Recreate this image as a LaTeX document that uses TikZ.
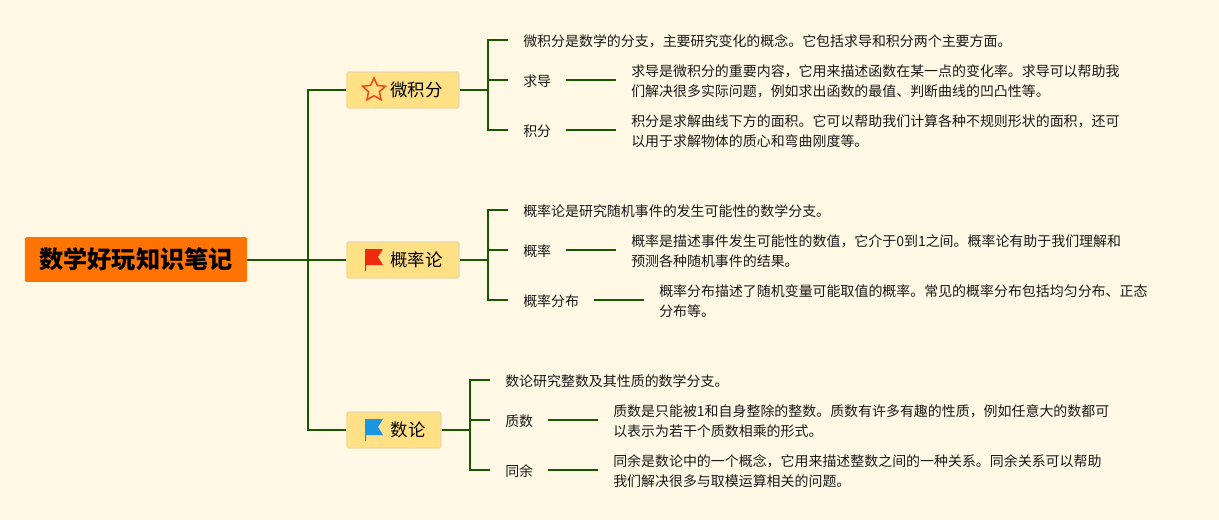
\documentclass[tikz,border=0pt]{standalone}
\usepackage{fontspec}
\setmainfont{Noto Sans CJK SC}
\usetikzlibrary{shapes.geometric}
\pgfdeclarelayer{bg}
\pgfsetlayers{bg,main}
\definecolor{paper}{HTML}{FFF8E4}
\definecolor{branch}{HTML}{1A5800}
\definecolor{rootfill}{HTML}{FF7400}
\definecolor{topicfill}{HTML}{FFE084}
\definecolor{topicline}{HTML}{EBD9A8}
\definecolor{inkred}{HTML}{F02A10}
\definecolor{inkstar}{HTML}{EA4A1E}
\definecolor{inkblue}{HTML}{1A96E0}
\tikzset{
    rootnode/.style={rectangle, rounded corners=1pt, fill=rootfill, minimum width=5.55cm, minimum height=1.12cm, inner sep=0mm, font=\fontsize{17.2}{20}\selectfont\bfseries},
    topicnode/.style={rectangle, rounded corners=1pt, draw=topicline, line width=.8pt, fill=topicfill, minimum height=.9cm, inner sep=0mm, font=\fontsize{12.4}{15}\selectfont},
    leafnode/.style={anchor=west, inner xsep=.375cm, inner ysep=0mm, align=left, text=black!90, font=\fontsize{9.92}{14.2}\selectfont},
    link/.style={draw=branch, line width=1.4pt}
}

\begin{document}
\begin{tikzpicture}[x=0.025cm, y=-0.025cm]
    \useasboundingbox (0,0) rectangle (1219,520);

    \node (root) [rootnode] at (136,259.5) {\raisebox{-1.4pt}{数学好玩知识笔记}};

    \node (t1) [topicnode, minimum width=2.8cm] at (403,90) {\hspace*{.68cm}\raisebox{-.8pt}{微积分}};
    \node (t2) [topicnode, minimum width=2.8cm] at (403,260) {\hspace*{.68cm}\raisebox{-.8pt}{概率论}};
    \node (t3) [topicnode, minimum width=2.35cm] at (394,430) {\hspace*{.7cm}\raisebox{-.8pt}{数论}};

    \node (star) [star, star points=5, star point ratio=2.1, draw=inkstar, line width=1.1pt, inner sep=0mm, minimum size=.6cm] at (374,90) {};

    \coordinate (j0) at (308,260);
    \coordinate (j1) at (488,90);
    \coordinate (j2) at (488,260);
    \coordinate (j3) at (470,430);

    % calculus
    \node (a0) [leafnode] at (508,41.4) {微积分是数学的分支，主要研究变化的概念。它包括求导和积分两个主要方面。};
    \node (a1) [leafnode] at (508,81.4) {求导};
    \node (a1t) [leafnode] at (616,81.4) {求导是微积分的重要内容，它用来描述函数在某一点的变化率。求导可以帮助我\\们解决很多实际问题，例如求出函数的最值、判断曲线的凹凸性等。};
    \node (a2) [leafnode] at (508,131.4) {积分};
    \node (a2t) [leafnode] at (616,131.4) {积分是求解曲线下方的面积。它可以帮助我们计算各种不规则形状的面积，还可\\以用于求解物体的质心和弯曲刚度等。};

    % probability
    \node (b0) [leafnode] at (508,211.4) {概率论是研究随机事件的发生可能性的数学分支。};
    \node (b1) [leafnode] at (508,251.4) {概率};
    \node (b1t) [leafnode] at (616,251.4) {概率是描述事件发生可能性的数值，它介于0到1之间。概率论有助于我们理解和\\预测各种随机事件的结果。};
    \node (b2) [leafnode] at (508,301.4) {概率分布};
    \node (b2t) [leafnode] at (644,301.4) {概率分布描述了随机变量可能取值的概率。常见的概率分布包括均匀分布、正态\\分布等。};

    % number theory
    \node (c0) [leafnode] at (490,381.4) {数论研究整数及其性质的数学分支。};
    \node (c1) [leafnode] at (490,421.4) {质数};
    \node (c1t) [leafnode] at (598,421.4) {质数是只能被1和自身整除的整数。质数有许多有趣的性质，例如任意大的数都可\\以表示为若干个质数相乘的形式。};
    \node (c2) [leafnode] at (490,471.4) {同余};
    \node (c2t) [leafnode] at (598,471.4) {同余是数论中的一个概念，它用来描述整数之间的一种关系。同余关系可以帮助\\我们解决很多与取模运算相关的问题。};

    % flags
    \fill [inkred] (365,249) -- (383,249) -- (378,257) -- (383,265) -- (366,265) -- (366,271) -- (365,271) -- cycle;
    \fill [inkblue] (365,419) -- (383,419) -- (378,427) -- (383,435) -- (366,435) -- (366,441) -- (365,441) -- cycle;

    \begin{pgfonlayer}{bg}
        \fill [paper] (0,0) rectangle (1219,520);

        \draw [link] (root.east |- j0) -- (t2.west);
        \draw [link] (j0) |- (t1.west);
        \draw [link] (j0) |- (t3.west);

        \draw [link] (t1.east) -- (j1);
        \draw [link] (j1) |- (a0.west |- 0,40);
        \draw [link] (j1) |- (a1.west |- 0,80);
        \draw [link] (j1) |- (a2.west |- 0,130);
        \draw [link] (a1.east |- 0,80) -- (a1t.west |- 0,80);
        \draw [link] (a2.east |- 0,130) -- (a2t.west |- 0,130);

        \draw [link] (t2.east) -- (j2);
        \draw [link] (j2) |- (b0.west |- 0,210);
        \draw [link] (j2) |- (b1.west |- 0,250);
        \draw [link] (j2) |- (b2.west |- 0,300);
        \draw [link] (b1.east |- 0,250) -- (b1t.west |- 0,250);
        \draw [link] (b2.east |- 0,300) -- (b2t.west |- 0,300);

        \draw [link] (t3.east) -- (j3);
        \draw [link] (j3) |- (c0.west |- 0,380);
        \draw [link] (j3) |- (c1.west |- 0,420);
        \draw [link] (j3) |- (c2.west |- 0,470);
        \draw [link] (c1.east |- 0,420) -- (c1t.west |- 0,420);
        \draw [link] (c2.east |- 0,470) -- (c2t.west |- 0,470);
    \end{pgfonlayer}
\end{tikzpicture}
\end{document}
